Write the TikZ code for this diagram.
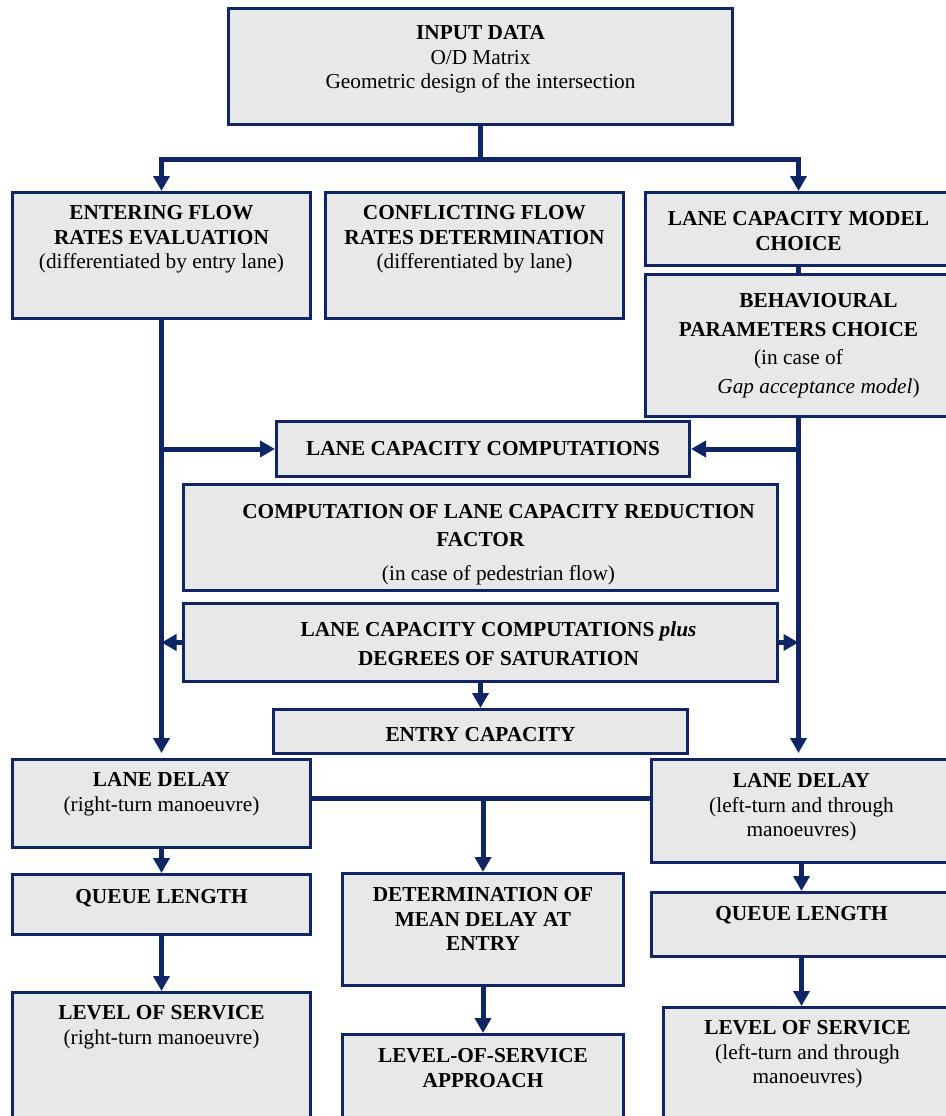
\documentclass[tikz,border=0pt]{standalone}
\usepackage{fontspec}
\setmainfont{Liberation Serif}
\usetikzlibrary{arrows.meta}
\definecolor{navy}{RGB}{16,38,100}
\definecolor{boxgray}{RGB}{232,232,232}
% width, height, top gap, lines
\newcommand{\boxtext}[4]{\parbox[c][#2][t]{#1}{\centering\vspace*{#3}\strut#4}}

\begin{document}
\begin{tikzpicture}[x=1pt,y=-1pt,
    box/.style={draw=navy, line width=3pt, fill=boxgray, inner sep=0pt, anchor=north west,
      font=\fontsize{21.3}{24.5}\selectfont},
    link/.style={draw=navy, line width=5pt},
    arr/.style={link, -{Triangle[width=16pt,length=15pt]}}]
      \useasboundingbox (0,0) rectangle (945,1116);
      %input
      \node[box] (input) at (227,7) {\boxtext{504pt}{116pt}{14pt}{\textbf{INPUT DATA}\\ O/D Matrix\\ Geometric design of the intersection}};
      %first row
      \node[box] (enter) at (11,191) {\boxtext{298pt}{126pt}{10pt}{\textbf{ENTERING FLOW}\\ \textbf{RATES EVALUATION}\\ (differentiated by entry lane)}};
      \node[box] (conflict) at (324,191) {\boxtext{298pt}{126pt}{10pt}{\textbf{CONFLICTING FLOW}\\ \textbf{RATES DETERMINATION}\\ (differentiated by lane)}};
      \node[box] (model) at (644,191) {\boxtext{306pt}{73pt}{16pt}{\textbf{LANE CAPACITY MODEL}\\ \textbf{CHOICE}}};
      \node[box] (behav) at (644,273) {\boxtext{306pt}{142pt}{16pt}{\hspace*{40pt}\textbf{BEHAVIOURAL}\\[4pt] \textbf{PARAMETERS CHOICE}\\[4pt] (in case of\\[4pt] \hspace*{40pt}\textit{Gap acceptance model})}};
      %capacity
      \node[box] (comp) at (275,420) {\boxtext{413pt}{55pt}{17pt}{\textbf{LANE CAPACITY COMPUTATIONS}}};
      \node[box] (reduct) at (182,483) {\boxtext{594pt}{106pt}{17pt}{\hspace*{36pt}\textbf{COMPUTATION OF LANE CAPACITY REDUCTION}\\[3.5pt] \textbf{FACTOR}\\[9.5pt] \hspace*{36pt}(in case of pedestrian flow)}};
      \node[box] (plus) at (182,602) {\boxtext{594pt}{78pt}{16pt}{\hspace*{36pt}\textbf{LANE CAPACITY COMPUTATIONS \textit{plus}}\\[4.5pt] \hspace*{36pt}\textbf{DEGREES OF SATURATION}}};
      \node[box] (entry) at (272,708) {\boxtext{414pt}{44pt}{15pt}{\textbf{ENTRY CAPACITY}}};
      %delays
      \node[box] (delayL) at (11,758) {\boxtext{298pt}{88pt}{10pt}{\textbf{LANE DELAY}\\ (right-turn manoeuvre)}};
      \node[box] (delayR) at (650,758) {\boxtext{300pt}{103pt}{11pt}{\textbf{LANE DELAY}\\ (left-turn and through\\ manoeuvres)}};
      \node[box] (queueL) at (11,873) {\boxtext{298pt}{60pt}{12pt}{\textbf{QUEUE LENGTH}}};
      \node[box] (det) at (341,872) {\boxtext{281pt}{112pt}{11pt}{\textbf{DETERMINATION OF}\\ \textbf{MEAN DELAY AT}\\ \textbf{ENTRY}}};
      \node[box] (queueR) at (650,891) {\boxtext{300pt}{64pt}{11pt}{\textbf{QUEUE LENGTH}}};
      %level of service
      \node[box] (losL) at (11,991) {\boxtext{298pt}{134pt}{10pt}{\textbf{LEVEL OF SERVICE}\\ (right-turn manoeuvre)}};
      \node[box] (losA) at (341,1033) {\boxtext{281pt}{92pt}{11pt}{\textbf{LEVEL-OF-SERVICE}\\ \textbf{APPROACH}}};
      \node[box] (losR) at (662,1006) {\boxtext{288pt}{119pt}{10pt}{\textbf{LEVEL OF SERVICE}\\ (left-turn and through\\ manoeuvres)}};
      %links
      \draw[arr] (input.south) -- ++(0,33) -| (enter.north);
      \draw[arr] (input.south) -- ++(0,33) -| (model.north);
      \draw[link] (model.south) -- (behav.north);
      \draw[arr, shorten >=5pt] (enter.south) -- (delayL.north);
      \draw[arr] (enter.south |- comp.west) -- (comp.west);
      \draw[arr, shorten >=5pt] (behav.south) -- (behav.south |- delayR.north);
      \draw[arr] (behav.south |- comp.east) -- (comp.east);
      \draw[arr] (plus.west) -- (enter.south |- plus.west);
      \draw[arr] (plus.east) -- (behav.south |- plus.east);
      \draw[arr] (plus.south) -- (entry.north);
      \draw[link] ([yshift=5pt]delayL.east) -- ([yshift=5pt]delayL.east -| delayR.west);
      \draw[arr] ([yshift=5pt]delayL.east -| det.north) -- (det.north);
      \draw[arr] (delayL.south) -- (queueL.north);
      \draw[arr] (queueL.south) -- (losL.north);
      \draw[arr] (delayR.south) -- (queueR.north);
      \draw[arr] (queueR.south) -- (queueR.south |- losR.north);
      \draw[arr] (det.south) -- (losA.north);
\end{tikzpicture}
\end{document}
